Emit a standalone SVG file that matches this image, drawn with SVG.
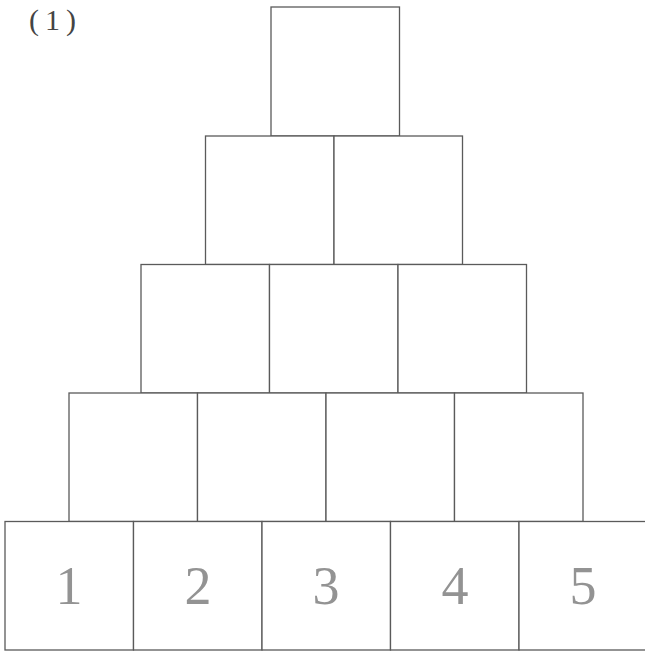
<svg xmlns="http://www.w3.org/2000/svg" width="645" height="651" viewBox="0 0 645 651">
<style>
.b{fill:#fff;stroke:#5a5a5a;stroke-width:1.3}
.n{font-family:"Liberation Serif",serif;font-size:54px;fill:#939393;text-anchor:middle}
.l{font-family:"Liberation Serif",serif;font-size:30px;fill:#444}
</style>
<rect width="645" height="651" fill="#fff"/>
<text class="l" y="30"><tspan x="29">(</tspan><tspan x="45">1</tspan><tspan x="66">)</tspan></text>
<g id="r1"><rect class="b" x="271" y="7" width="128.5" height="129"/></g>
<g id="r2">
<rect class="b" x="205.5" y="136" width="128.5" height="128.5"/>
<rect class="b" x="334" y="136" width="128.5" height="128.5"/>
</g>
<g id="r3">
<rect class="b" x="141" y="264.5" width="128.5" height="128.5"/>
<rect class="b" x="269.5" y="264.5" width="128.5" height="128.5"/>
<rect class="b" x="398" y="264.5" width="128.5" height="128.5"/>
</g>
<g id="r4">
<rect class="b" x="69" y="393" width="128.5" height="128.5"/>
<rect class="b" x="197.5" y="393" width="128.5" height="128.5"/>
<rect class="b" x="326" y="393" width="128.5" height="128.5"/>
<rect class="b" x="454.5" y="393" width="128.5" height="128.5"/>
</g>
<g id="r5">
<rect class="b" x="5" y="521.5" width="128.5" height="128.5"/>
<rect class="b" x="133.5" y="521.5" width="128.5" height="128.5"/>
<rect class="b" x="262" y="521.5" width="128.5" height="128.5"/>
<rect class="b" x="390.5" y="521.5" width="128.5" height="128.5"/>
<rect class="b" x="519" y="521.5" width="128.5" height="128.5"/>
<text class="n" x="69" y="604">1</text>
<text class="n" x="198" y="604">2</text>
<text class="n" x="326" y="604">3</text>
<text class="n" x="455" y="604">4</text>
<text class="n" x="583" y="604">5</text>
</g>
</svg>
